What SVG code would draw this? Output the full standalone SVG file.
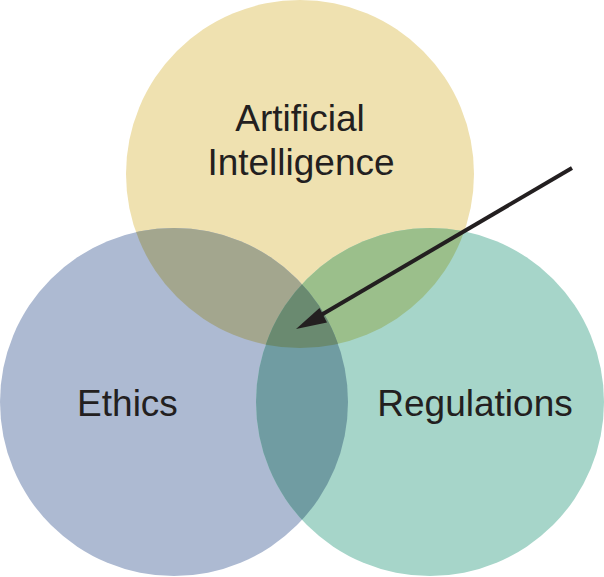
<svg xmlns="http://www.w3.org/2000/svg" width="604" height="577" viewBox="0 0 604 577">
<style>
.lbl{font-family:"Liberation Sans",Arial,sans-serif;font-size:37px;fill:#231f20;text-anchor:middle}
</style>
<defs>
<clipPath id="cT"><circle cx="300" cy="174" r="174"/></clipPath>
<clipPath id="cL"><circle cx="174" cy="402" r="174"/></clipPath>
</defs>
<rect width="604" height="577" fill="#ffffff"/>
<g id="ai"><circle cx="300" cy="174" r="174" fill="#efe1b0"/></g>
<g id="ethics"><circle cx="174" cy="402" r="174" fill="#adbad2"/></g>
<g id="regulations"><circle cx="430" cy="402" r="174" fill="#a6d5c9"/></g>
<g id="overlaps">
<g clip-path="url(#cT)"><circle cx="174" cy="402" r="174" fill="#a3a68e"/><circle cx="430" cy="402" r="174" fill="#9bbf8b"/></g>
<g clip-path="url(#cL)"><circle cx="430" cy="402" r="174" fill="#709ca2"/></g>
<g clip-path="url(#cT)"><g clip-path="url(#cL)"><circle cx="430" cy="402" r="174" fill="#6a8a70"/></g></g>
</g>
<g id="labels">
<text class="lbl"><tspan x="300" y="131">Artificial</tspan><tspan x="301" y="175">Intelligence</tspan></text>
<text class="lbl" x="127.5" y="416">Ethics</text>
<text class="lbl" x="475" y="416">Regulations</text>
</g>
<g id="connectors">
<line x1="572" y1="168" x2="316" y2="318" stroke="#231f20" stroke-width="4"/>
<polygon points="296,329 319.5,308 327,322.5" fill="#231f20"/>
</g>
</svg>
